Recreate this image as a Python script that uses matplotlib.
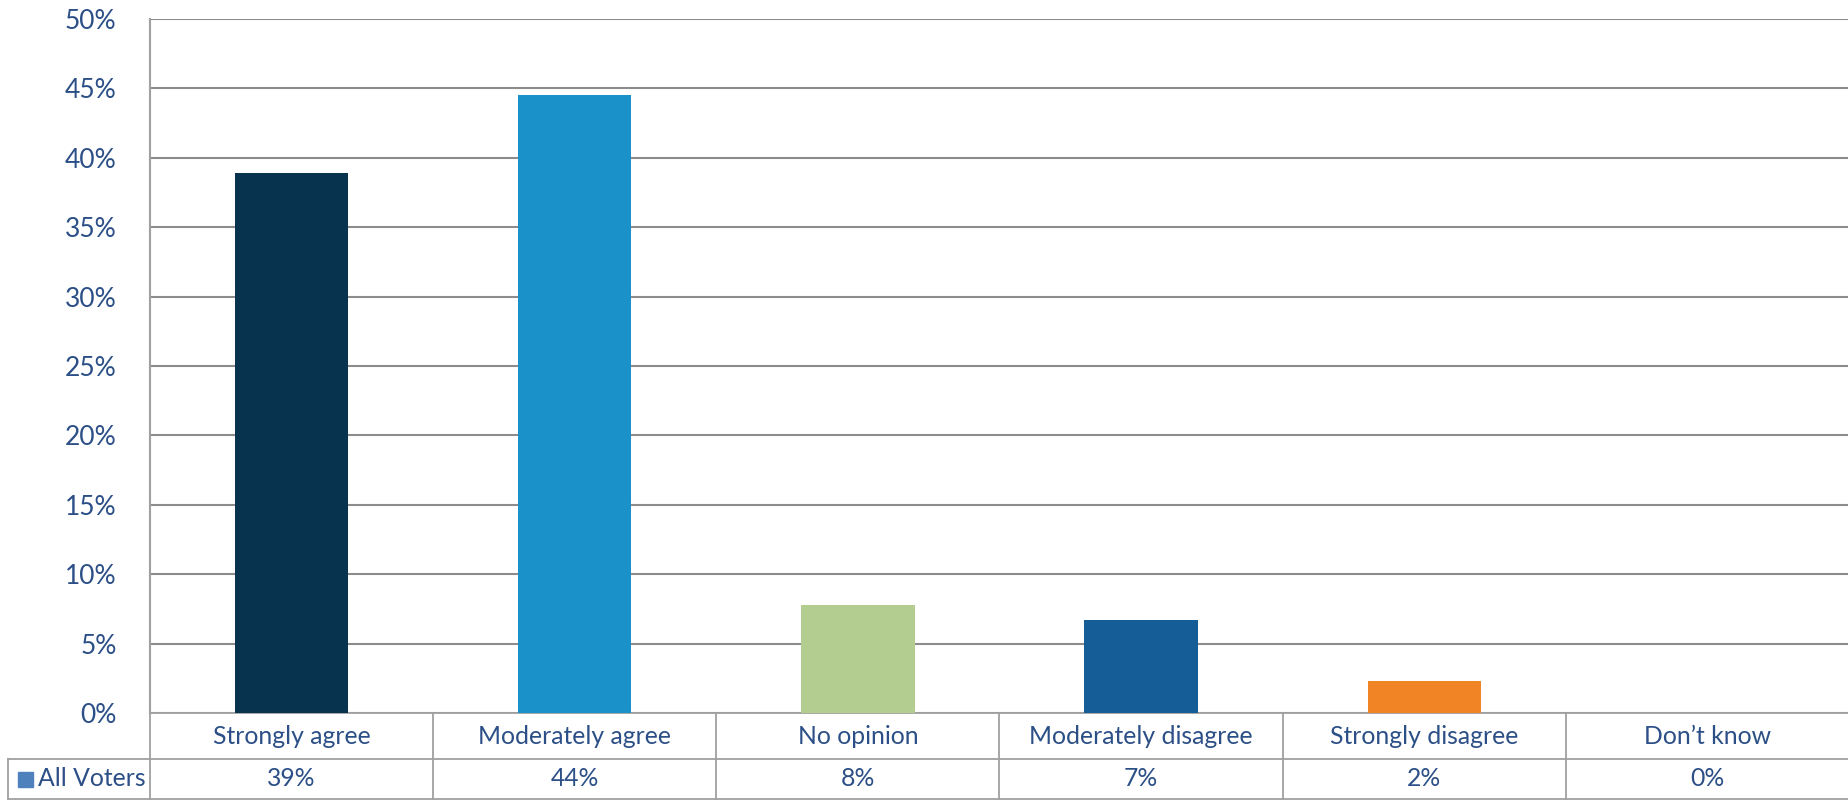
import matplotlib.pyplot as plt
import matplotlib.patches as mpatches
import numpy as np

categories = ['Strongly agree', 'Moderately agree', 'No opinion',
              'Moderately disagree', 'Strongly disagree', 'Don\u2019t know']
values = [38.9, 44.5, 7.8, 6.7, 2.3, 0.0]
table_labels = ['39%', '44%', '8%', '7%', '2%', '0%']
series_name = 'All Voters'
bar_colors = ['#08334f', '#1a91c9', '#b3cc8f', '#155d96', '#f18424', '#7f7f7f']
yticks = [0, 5, 10, 15, 20, 25, 30, 35, 40, 45, 50]

txtcol = '#2b4f86'
gridcol = '#8c8c8c'
fsize = 17.8
tsize = 19

plt.rcParams['font.family'] = ['Lato', 'DejaVu Sans']

W, H = 1849, 801
fig = plt.figure(figsize=(W/100, H/100), dpi=100)
# plot area in pixels: x 150..1849, y 19..713
ax = fig.add_axes([150/W, (H-713)/H, (W-150)/W, (713-19)/H])

x = np.arange(len(categories))
ax.bar(x, values, width=0.40, color=bar_colors, zorder=3)
ax.set_xlim(-0.5, len(categories)-0.5)
ax.set_ylim(0, 50)
ax.set_yticks(yticks)
ax.set_yticklabels([str(t) + '%' for t in yticks], color=txtcol, fontsize=tsize)
ax.tick_params(axis='y', length=0, pad=24)
ax.set_xticks([])
ax.grid(axis='y', color=gridcol, linewidth=1.5, zorder=0)
for s in ['top', 'right', 'bottom']:
    ax.spines[s].set_visible(False)
ax.spines['left'].set_color('#a0a0a0')
ax.spines['left'].set_linewidth(1.5)

# data table under the chart
axh = 713 - 19
r1 = -(759 - 713)/axh
r2 = -(799 - 713)/axh
tr = ax.get_xaxis_transform()
lkw = dict(color='#a0a0a0', linewidth=1.3, transform=tr, clip_on=False)
left = -1.0
right = len(categories) - 0.5
ax.plot([-0.5, right], [0, 0], **lkw)
ax.plot([left, right], [r1, r1], **lkw)
ax.plot([left, right], [r2, r2], **lkw)
ax.plot([left, left], [r1, r2], **lkw)
ax.plot([-0.5, -0.5], [0, r2], **lkw)
for k in range(1, len(categories)):
    ax.plot([k-0.5, k-0.5], [0, r2], **lkw)

for i, c in enumerate(categories):
    ax.text(i, r1/2, c, transform=tr, ha='center', va='center',
            color=txtcol, fontsize=fsize, clip_on=False)
    ax.text(i, (r1+r2)/2, table_labels[i], transform=tr, ha='center', va='center',
            color=txtcol, fontsize=fsize, clip_on=False)

# legend key in the table
fig.patches.append(mpatches.Rectangle((18/W, (H-787)/H), 15/W, 15/H,
                                      color='#4f81bd', transform=fig.transFigure))
fig.text(38/W, (H-779)/H, series_name, ha='left', va='center',
         color=txtcol, fontsize=fsize)

fig.savefig('out.png', dpi=100)
